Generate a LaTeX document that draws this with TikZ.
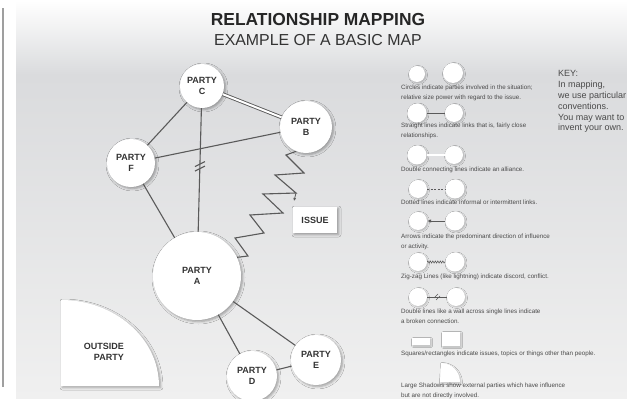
\documentclass[tikz,border=0pt]{standalone}
\usepackage{fontspec}
\setmainfont{Liberation Sans}
\usetikzlibrary{shadows.blur,arrows.meta,calc,decorations.pathmorphing}
\definecolor{bgg}{HTML}{DADBDD}
\definecolor{bgl}{HTML}{F0F0F0}
\definecolor{ln}{HTML}{5A5A5A}
\definecolor{tx}{HTML}{333333}
\definecolor{kt}{HTML}{4A4A4A}
\begin{document}
\begin{tikzpicture}[x=1pt,y=-1pt,
  shd/.style={blur shadow={shadow xshift=1.5pt, shadow yshift=-1.5pt, shadow blur radius=2.5pt, shadow opacity=35}},
  kshd/.style={blur shadow={shadow xshift=1pt, shadow yshift=-1pt, shadow blur radius=1.5pt, shadow opacity=22}},
  party/.style={circle, fill=white, inner sep=0pt, align=center, text=tx,
    font=\bfseries\fontsize{9}{11.5}\selectfont, shd},
  kc/.style={circle, fill=white, inner sep=0pt, kshd},
  keytxt/.style={anchor=north west, inner sep=0pt, align=left, text=kt,
    font=\fontsize{6.25}{9.3}\selectfont},
  link/.style={draw=ln, line width=1.1pt},
  klink/.style={draw=ln, line width=0.8pt}]
\useasboundingbox (0,0) rectangle (627,399);
% background
\fill[white] (0,0) rectangle (627,399);
\fill[top color=white, bottom color=bgg] (16,0) rectangle (627,75);
\fill[top color=bgg, bottom color=bgl] (16,75) rectangle (627,399);
\draw[gray!75, line width=1.5pt] (3,8) -- (3,387);
% title
\node[anchor=base, inner sep=0pt, text=black!85, font=\bfseries\fontsize{17.4}{20}\selectfont] (t1) at (318,25) {RELATIONSHIP MAPPING};
\node[anchor=base, inner sep=0pt, text=black!80, font=\fontsize{15.9}{18}\selectfont] (t2) at (318,45) {EXAMPLE OF A BASIC MAP};
% outside party
\fill[white, shd] (61,386) -- (159,386) arc[start angle=0, end angle=-90, x radius=98, y radius=86] -- cycle;
\node[anchor=east, inner sep=0pt, align=right, text=tx, font=\bfseries\fontsize{9}{11.5}\selectfont] (op) at (124,352) {OUTSIDE\\PARTY};
% parties
\node[party, minimum size=44pt] (C) at (202,86) {PARTY\\C};
\node[party, minimum size=52pt] (B) at (306,127) {PARTY\\B};
\node[party, minimum size=48pt] (F) at (131,163) {PARTY\\F};
\node[party, minimum size=88pt] (A) at (197,276) {PARTY\\A};
\node[party, minimum size=50pt] (D) at (252,376) {PARTY\\D};
\node[party, minimum size=50pt] (E) at (316,360) {PARTY\\E};
\node[fill=white, shd, minimum width=44pt, minimum height=26pt, inner sep=0pt, text=tx,
  font=\bfseries\fontsize{9}{11}\selectfont] (I) at (315,220) {ISSUE};
% links
\draw[link] (C) -- (F);
\draw[link] (F) -- (B);
\draw[draw=ln, line width=0.9pt, double=white, double distance=2pt] (C) -- (B);
\draw[link] (F) -- (A);
\draw[link] (C) -- (A) coordinate[pos=.46] (w);
\draw[link] ($(w)+(-5,1.5)$) -- ($(w)+(5,-3.5)$);
\draw[link] ($(w)+(-5,6)$) -- ($(w)+(5,1)$);
\draw[link] (A) -- (D);
\draw[link] (A) -- (E);
\draw[link] (D) -- (E);
\draw[link, line join=miter] (B.-112) -- (286,155) -- (304,173) -- (275,175) -- (296,193)
  -- (263,194) -- (283,213) -- (250,215) -- (264,233) -- (235,238) -- (248,256) -- (A.25);
\draw[draw=ln, line width=0.8pt, -{Latex[length=3pt,width=3pt]}] (296,193) -- (294,201);
% key
\node[kc, minimum size=16pt] (k1a) at (417,74) {};
\node[kc, minimum size=20pt] (k1b) at (453,73) {};
\node[keytxt] (t1k) at (401,85) {Circles indicate parties involved in the situation;\\relative size power with regard to the issue.};
\node[kc, minimum size=19pt] (k2a) at (417,113) {};
\node[kc, minimum size=18pt] (k2b) at (454,113) {};
\draw[klink] (k2a) -- (k2b);
\node[keytxt] (t2k) at (401,123) {Straight lines indicate links that is, fairly close\\relationships.};
\node[kc, minimum size=19pt] (k3a) at (417,155) {};
\node[kc, minimum size=18pt] (k3b) at (454,155) {};
\draw[draw=ln, line width=0.6pt, double=white, double distance=1.5pt] (k3a) -- (k3b);
\node[keytxt] (t3k) at (401,167) {Double connecting lines indicate an alliance.};
\node[kc, minimum size=18pt] (k4a) at (418,189) {};
\node[kc, minimum size=19pt] (k4b) at (455,189) {};
\draw[klink, dash pattern=on 2pt off 1.5pt] (k4a) -- (k4b);
\node[keytxt] (t4k) at (401,200) {Dotted lines indicate informal or intermittent links.};
\node[kc, minimum size=18pt] (k5a) at (418,221) {};
\node[kc, minimum size=19pt] (k5b) at (455,221) {};
\draw[klink, -{Latex[length=4pt,width=3.5pt]}] (k5b) -- (k5a);
\node[keytxt] (t5k) at (401,234) {Arrows indicate the predominant direction of influence\\or activity.};
\node[kc, minimum size=18pt] (k6a) at (418,262) {};
\node[kc, minimum size=19pt] (k6b) at (455,262) {};
\draw[draw=ln, line width=0.6pt, decorate, decoration={zigzag, segment length=2.5pt, amplitude=1pt}] (k6a) -- (k6b);
\node[keytxt] (t6k) at (401,274) {Zig-zag Lines (like lightning) indicate discord, conflict.};
\node[kc, minimum size=18pt] (k7a) at (418,297) {};
\node[kc, minimum size=18pt] (k7b) at (456,297) {};
\draw[klink] (k7a) -- (k7b) coordinate[pos=.5] (kw);
\draw[draw=ln, line width=0.6pt] ($(kw)+(-3,1)$) -- ($(kw)+(1,-3)$);
\draw[draw=ln, line width=0.6pt] ($(kw)+(-1,3)$) -- ($(kw)+(3,-1)$);
\node[keytxt] (t7k) at (401,309) {Double lines like a wall across single lines indicate\\a broken connection.};
\node[fill=white, kshd, minimum width=18pt, minimum height=7pt, inner sep=0pt] (k8a) at (421,341.5) {};
\node[fill=white, kshd, minimum width=18pt, minimum height=14pt, inner sep=0pt] (k8b) at (451,339) {};
\node[keytxt] (t8k) at (401,351) {Squares/rectangles indicate issues, topics or things other than people.};
\fill[white, kshd] (440,382) -- (460,382) arc[start angle=0, end angle=-90, radius=19] -- cycle;
\node[keytxt] (t9k) at (401,383) {Large Shadows show external parties which have influence\\but are not directly involved.};
\node[anchor=north west, inner sep=0pt, align=left, text=kt, font=\fontsize{9}{10.8}\selectfont] (key) at (558,70.5)
  {KEY:\\In mapping,\\we use particular\\conventions.\\You may want to\\invent your own.};
\end{tikzpicture}
\end{document}
